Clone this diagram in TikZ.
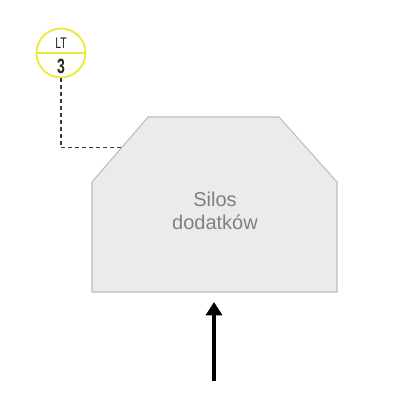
\documentclass[tikz,border=0pt]{standalone}
\usepackage{fontspec}
\setmainfont{Liberation Sans}
\newfontfamily\narrowfont[FakeStretch=0.68]{Liberation Sans}
\usetikzlibrary{arrows.meta}
\usetikzlibrary{calc}

\definecolor{silofill}{HTML}{EBEBEB}
\definecolor{siloline}{HTML}{BDBDBD}
\definecolor{silotext}{HTML}{808080}
\definecolor{ltyellow}{HTML}{EEE83A}
\definecolor{tagline}{HTML}{3A3A3A}

\begin{document}
\begin{tikzpicture}[x=0.75pt,y=-0.75pt]

		\useasboundingbox (0,0) rectangle (400,400);

		\coordinate (A) at (148,117) ;
		\coordinate (B) at (92,182) ;
		\coordinate (C) at (92,292) ;
		\coordinate (D) at (337,292) ;
		\coordinate (E) at (337,182) ;
		\coordinate (F) at (279,117) ;

		\coordinate (P) at ($(A)!0.466!(B)$);

		\coordinate (In) at (214,381);
		\coordinate (Out) at (214,302);

		\draw [fill=silofill, draw=siloline, line width=0.8pt] (A)--(B)--(C)--(D)--(E)--(F)--cycle;

		\node [text=silotext, align=center, font=\fontsize{15}{17.25}\selectfont] (Silo) at (215,211) {Silos\\dodatków};

		\node [circle, draw=ltyellow, line width=1.4pt, fill=white, minimum size=36.75pt, inner sep=0pt] (LT) at (61,53) {};
		\draw [ltyellow, line width=1.4pt] (LT.west)--(LT.east);
		\node [text=black!85, font=\narrowfont\fontsize{11.5}{12}\selectfont, inner sep=0pt] (LTtag) at (61,43.5) {LT};
		\node [text=black!85, font=\narrowfont\bfseries\fontsize{15.5}{16}\selectfont, inner sep=0pt] (LTnum) at (61,66.5) {3};

		\draw [tagline, dashed, dash pattern=on 3pt off 2.2pt, line width=1pt] (LT.south) |- (P);

		\draw [-{Triangle[length=10pt,width=12pt]}, line width=3pt] (In)--(Out);
\end{tikzpicture}
\end{document}
